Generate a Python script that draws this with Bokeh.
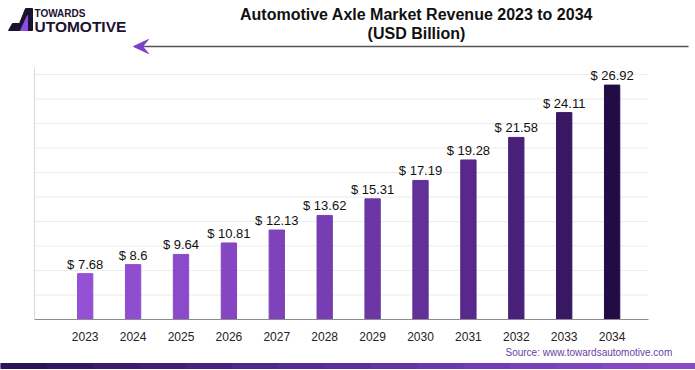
from bokeh.plotting import figure
from bokeh.models import Range1d, FixedTicker, ColumnDataSource, LinearAxis
from bokeh.core.properties import value
from bokeh.embed import file_html
from bokeh.resources import INLINE

years = [2023, 2024, 2025, 2026, 2027, 2028, 2029, 2030, 2031, 2032, 2033, 2034]
revenue = [7.68, 8.6, 9.64, 10.81, 12.13, 13.62, 15.31, 17.19, 19.28, 21.58, 24.11, 26.92]
labels = ["$ 7.68", "$ 8.6", "$ 9.64", "$ 10.81", "$ 12.13", "$ 13.62", "$ 15.31",
          "$ 17.19", "$ 19.28", "$ 21.58", "$ 24.11", "$ 26.92"]
bar_colors = ["#9451d6", "#8f4ed0", "#8a4bca", "#8446c2", "#7e42bb", "#773db3",
              "#6c36a5", "#632f98", "#58288a", "#4a2179", "#381862", "#220c45"]
grid_ticks = [5.5, 8.0, 10.5, 13.0, 15.5, 18.0, 20.5, 23.0, 25.5, 28.0]
title_lines = ["Automotive Axle Market Revenue 2023 to 2034", "(USD Billion)"]
source_text = "Source: www.towardsautomotive.com"

FONT = "Liberation Sans"
W, H = 695, 370
X0, X1 = 2021.94, 2034.76      # extent of the plotting area
Y0, Y1 = 3.0, 28.71

src = ColumnDataSource(dict(x=years, top=revenue, label=labels, color=bar_colors))

p = figure(width=W, height=H, output_backend="svg", toolbar_location=None,
           x_range=Range1d(2021.232, 2035.741), y_range=Range1d(-2.204, 35.551),
           x_axis_location=None, y_axis_location=None,
           min_border=0, min_border_left=0, min_border_right=0, min_border_top=0, min_border_bottom=0)
p.outline_line_color = None
p.background_fill_color = "white"
p.border_fill_color = "white"
p.grid.grid_line_color = None

# page-pixel coordinate system for the decorations
p.extra_x_ranges["px"] = Range1d(0, W)
p.extra_y_ranges["py"] = Range1d(H, 0)

# horizontal grid lines (limited to the plotting area)
p.segment(x0=X0, x1=X1, y0=grid_ticks, y1=grid_ticks, line_color="#ececec", line_width=1)

# bars + value labels
p.vbar(x="x", top="top", bottom=Y0, width=0.32, color="color", source=src)
p.text(x="x", y="top", text="label", source=src, text_align="center", text_baseline="bottom",
       y_offset=-2, text_font=value(FONT), text_font_size="13px", text_color="#111111")

# x axis at the baseline
xa = LinearAxis(fixed_location=Y0, bounds=(X0, X1), ticker=FixedTicker(ticks=years))
xa.axis_line_color = "#8c8c8c"
xa.axis_line_width = 1
xa.major_tick_line_color = None
xa.minor_tick_line_color = None
xa.major_label_text_font = FONT
xa.major_label_text_font_size = "12px"
xa.major_label_text_color = "#222222"
xa.major_label_standoff = 6
p.add_layout(xa, "below")

# y axis (line only)
ya = LinearAxis(fixed_location=X0, bounds=(Y0, Y1), ticker=FixedTicker(ticks=[]))
ya.axis_line_color = "#d9d9d9"
ya.major_tick_line_color = None
ya.minor_tick_line_color = None
p.add_layout(ya, "left")

# ---------------- header ----------------
deco = dict(x_range_name="px", y_range_name="py")
p.patch([8, 12, 19, 25, 32, 32], [30, 23, 23, 8, 8, 30], color="#1c1230", **deco)
p.patch([20, 27, 27], [30, 15, 30], color="#8a4fe0", **deco)
p.text([34], [13], text=["TOWARDS"], text_align="left", text_baseline="middle",
       text_font=value(FONT), text_font_size="10px", text_font_style="bold",
       text_color="#1c1230", **deco)
p.text([34], [25.5], text=["UTOMOTIVE"], text_align="left", text_baseline="middle",
       text_font=value(FONT), text_font_size="15.5px", text_font_style="bold",
       text_color="#1c1230", **deco)
p.text([416, 416], [14, 33], text=title_lines, text_align="center", text_baseline="middle",
       text_font=value(FONT), text_font_size="16px", text_font_style="bold",
       text_color="#111111", **deco)
p.segment([141], [46], [688], [46], line_color="#555555", line_width=1.5, **deco)
p.patch([133, 148, 142, 148], [46, 39, 46, 53], color="#7b3fc8", **deco)

# ---------------- footer ----------------
p.text([505], [352], text=[source_text], text_align="left", text_baseline="middle",
       text_font=value(FONT), text_font_size="10px", text_color="#6a3ea6", **deco)
grad = ["#2b1458", "#321862", "#391c6c", "#402076", "#472480", "#4e288a", "#552c93",
        "#5c309c", "#6334a5", "#6a38ad", "#713cb4", "#7840ba", "#7f44bf", "#8648c3", "#8a4cc6"]
seg = W / len(grad)
p.quad(left=[i * seg for i in range(len(grad))], right=[(i + 1) * seg + 0.6 for i in range(len(grad))],
       top=[363] * len(grad), bottom=[368] * len(grad), color=grad, **deco)

open("out.html", "w").write(file_html(p, INLINE))
